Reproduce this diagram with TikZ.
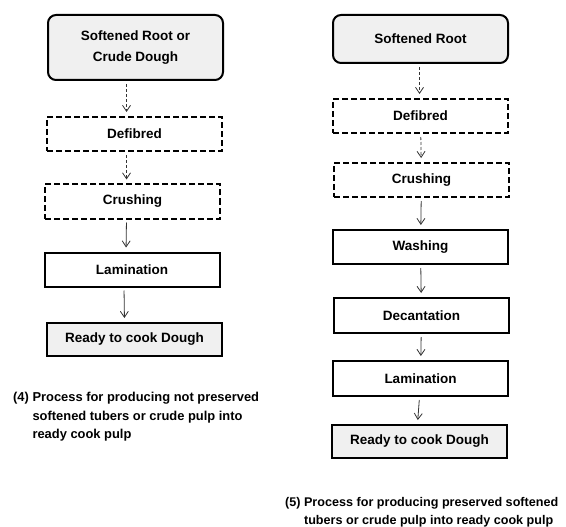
\documentclass[tikz,border=0pt]{standalone}
\usepackage{fontspec}
\setmainfont{Liberation Sans}
\usetikzlibrary{arrows.meta}
\begin{document}
\begin{tikzpicture}
[ar/.style={-{Straight Barb[length=6pt,width=8pt]},line width=0.8pt,black!80,shorten <=3pt,shorten >=4pt},
 dar/.style={ar,dash pattern=on 3pt off 2pt},
 box/.style={draw,line width=2pt,minimum width=175pt,minimum height=34pt,inner sep=0pt,align=center,font=\fontsize{13.5}{21}\selectfont\bfseries},
 dbox/.style={box,dash pattern=on 6pt off 3pt},
 startbox/.style={box,rounded corners=8pt,fill=black!6},
 endbox/.style={box,fill=black!6},
 captxt/.style={anchor=base west,inner sep=0pt,font=\fontsize{12.9}{18.5}\selectfont\bfseries}]
\useasboundingbox (0pt,0pt) rectangle (566pt,-527pt);

% process (4)
\node [startbox,minimum height=65pt] at (135.5pt,-47.5pt) (rootA) {Softened Root or\\Crude Dough};
\node [dbox] at (134.5pt,-134pt) (defA) {Defibred};
\node [dbox] at (132.5pt,-201.5pt) (crushA) {Crushing};
\node [box] at (132pt,-269.5pt) (lamA) {Lamination};
\node [endbox,minimum height=33pt] at (134.5pt,-339.5pt) (readyA) {Ready to cook Dough};
\node [captxt] at (13pt,-401.5pt) (capA) {\begin{tabular}[t]{@{}l@{ }l@{}}(4) & Process for producing not preserved\\ & softened tubers or crude pulp into\\ & ready cook pulp\end{tabular}};

\draw [dar] ([xshift=-9pt]rootA.south) -- ([xshift=-8pt]defA.north);
\draw [dar] ([xshift=-8pt]defA.south) -- ([xshift=-6pt]crushA.north);
\draw [ar] ([xshift=-6pt]crushA.south) -- ([xshift=-6pt]lamA.north);
\draw [ar] ([xshift=-8pt]lamA.south) -- ([xshift=-10pt]readyA.north);

% process (5)
\node [startbox,minimum height=48pt] at (420.5pt,-39pt) (rootB) {Softened Root};
\node [dbox] at (420.5pt,-116pt) (defB) {Defibred};
\node [dbox] at (421.5pt,-180pt) (crushB) {Crushing};
\node [box] at (420.5pt,-247pt) (washB) {Washing};
\node [box,minimum height=35pt] at (421.5pt,-315.5pt) (decB) {Decantation};
\node [box,minimum height=35pt] at (420.5pt,-378.5pt) (lamB) {Lamination};
\node [endbox,minimum height=33pt] at (419.5pt,-441.5pt) (readyB) {Ready to cook Dough};
\node [captxt,font=\fontsize{12.6}{18}\selectfont\bfseries] at (285pt,-506.5pt) (capB) {\begin{tabular}[t]{@{}l@{ }l@{}}(5) & Process for producing preserved softened\\ & tubers or crude pulp into ready cook pulp\end{tabular}};

\draw [dar] ([xshift=-1pt]rootB.south) -- ([xshift=-1pt]defB.north);
\draw [dar] (defB) -- (crushB);
\draw [ar] (crushB) -- (washB);
\draw [ar] (washB) -- (decB);
\draw [ar] (decB) -- (lamB);
\draw [ar] ([xshift=-1pt]lamB.south) -- ([xshift=-2pt]readyB.north);
\end{tikzpicture}
\end{document}
